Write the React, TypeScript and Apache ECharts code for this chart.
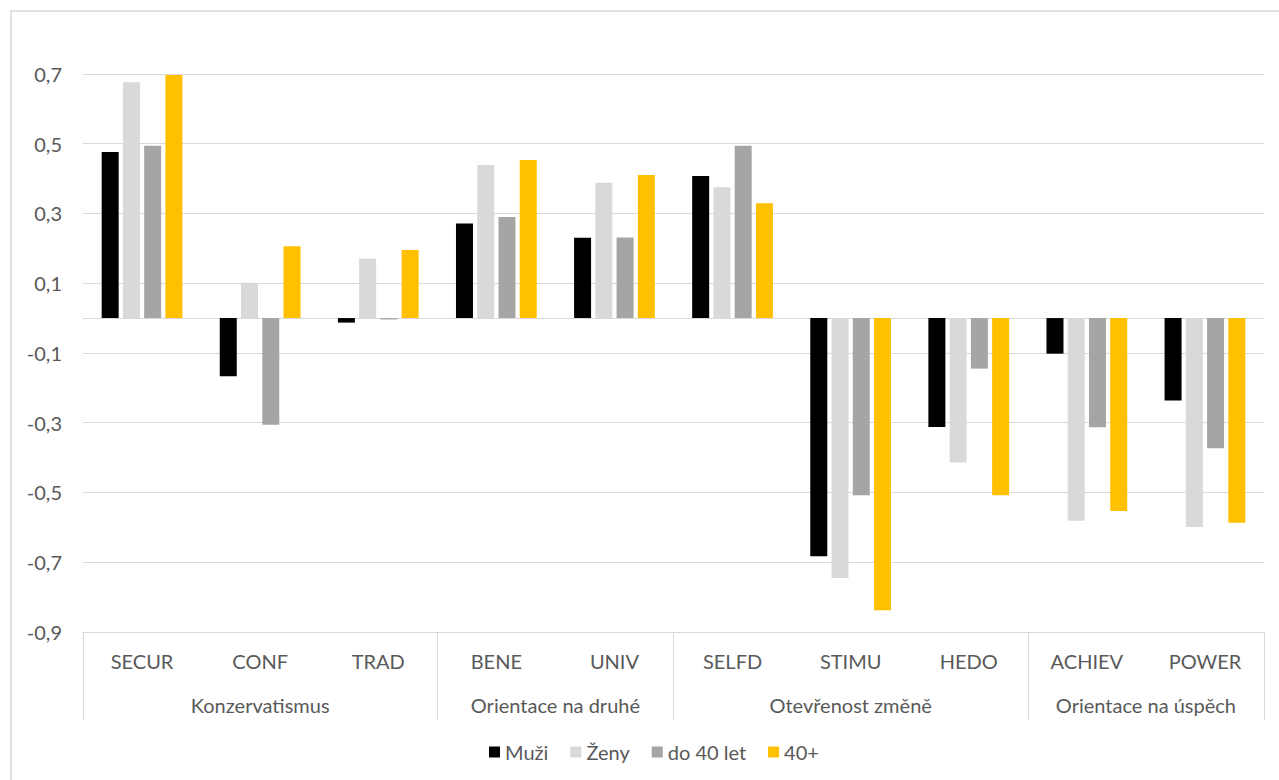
import React, { useEffect, useRef } from "react";
import * as echarts from "echarts";

const categories = ["SECUR", "CONF", "TRAD", "BENE", "UNIV", "SELFD", "STIMU", "HEDO", "ACHIEV", "POWER"];
const groups = ["Konzervatismus", "Orientace na druhé", "Otevřenost změně", "Orientace na úspěch"];
const groupSizes = [3, 2, 3, 2];

const seriesNames = ["Muži", "Ženy", "do 40 let", "40+"];
const muzi = [0.476, -0.167, -0.013, 0.271, 0.23, 0.407, -0.683, -0.312, -0.102, -0.236];
const zeny = [0.676, 0.101, 0.17, 0.439, 0.388, 0.375, -0.745, -0.414, -0.581, -0.599];
const do40 = [0.494, -0.306, -0.004, 0.29, 0.231, 0.494, -0.508, -0.145, -0.313, -0.373];
const plus40 = [0.697, 0.206, 0.195, 0.453, 0.41, 0.329, -0.838, -0.508, -0.553, -0.587];
const seriesColors = ["#000000", "#d9d9d9", "#a5a5a5", "#ffc000"];

const yTicks = [-0.9, -0.7, -0.5, -0.3, -0.1, 0.1, 0.3, 0.5, 0.7];
const yMin = -0.9;
const yMax = 0.8;

const FONT = "Lato, 'Noto Sans', sans-serif";
const TEXT = "#595959";
const LINE = "#d9d9d9";

export default function App() {
  const ref = useRef<HTMLDivElement>(null);

  useEffect(() => {
    if (!ref.current) return;
    const chart = echarts.init(ref.current, undefined, { renderer: "svg" });

    const starts: number[] = [];
    const centers: number[] = [];
    let acc = 0;
    groupSizes.forEach((s) => {
      starts.push(acc);
      centers.push(acc + s / 2);
      acc += s;
    });

    const data = [muzi, zeny, do40, plus40];

    const option: any = {
      animation: false,
      textStyle: { fontFamily: FONT },
      graphic: [
        {
          type: "rect",
          shape: { x: 11, y: 11, width: 1320, height: 820 },
          style: { fill: "none", stroke: LINE, lineWidth: 1.5 },
          silent: true,
          z: -10,
        },
      ],
      grid: { left: 83, right: 15, top: 39, bottom: 148, containLabel: false },
      legend: {
        data: seriesNames,
        top: 742,
        left: 489,
        padding: 0,
        icon: "rect",
        itemWidth: 11,
        itemHeight: 11,
        itemGap: 22,
        textStyle: { color: TEXT, fontSize: 20, fontFamily: FONT },
      },
      xAxis: [
        {
          type: "category",
          data: categories,
          axisLine: { show: true, onZero: true, lineStyle: { color: LINE, width: 1 } },
          axisTick: { show: false },
          axisLabel: { show: false },
          splitLine: { show: false },
        },
        {
          type: "category",
          data: categories,
          position: "bottom",
          axisLine: { show: true, onZero: false, lineStyle: { color: LINE, width: 1 } },
          axisTick: {
            show: true,
            length: 88,
            inside: false,
            interval: (index: number) => starts.indexOf(index) >= 0,
            lineStyle: { color: LINE, width: 1 },
          },
          axisLabel: {
            interval: 0,
            margin: 19,
            color: TEXT,
            fontSize: 20,
            fontFamily: FONT,
          },
          splitLine: { show: false },
        },
        {
          type: "value",
          min: 0,
          max: categories.length,
          interval: 0.5,
          position: "bottom",
          axisLine: { show: false, onZero: false },
          axisTick: { show: false },
          splitLine: { show: false },
          axisLabel: {
            margin: 63,
            color: TEXT,
            fontSize: 20,
            fontFamily: FONT,
            formatter: (v: number) => {
              const i = centers.findIndex((c) => Math.abs(c - v) < 1e-6);
              return i >= 0 ? groups[i] : "";
            },
          },
        },
      ],
      yAxis: {
        type: "value",
        min: yMin,
        max: yMax,
        interval: 0.1,
        axisLine: { show: false },
        axisTick: { show: false },
        splitLine: {
          show: true,
          lineStyle: { color: [LINE, "rgba(0,0,0,0)"], width: 1 },
        },
        axisLabel: {
          margin: 21,
          color: TEXT,
          fontSize: 20,
          fontFamily: FONT,
          formatter: (v: number) => {
            const hit = yTicks.find((t) => Math.abs(t - v) < 1e-6);
            return hit === undefined ? "" : hit.toFixed(1).replace(".", ",");
          },
        },
      },
      series: seriesNames.map((name, i) => ({
        name,
        type: "bar",
        xAxisIndex: 0,
        data: data[i],
        barWidth: 17,
        barGap: "25%",
        itemStyle: { color: seriesColors[i] },
      })),
    };

    chart.setOption(option);
    return () => chart.dispose();
  }, []);

  return (
    <div
      ref={ref}
      style={{ position: "fixed", left: 0, top: 0, width: 1279, height: 780, background: "#fff" }}
    />
  );
}
